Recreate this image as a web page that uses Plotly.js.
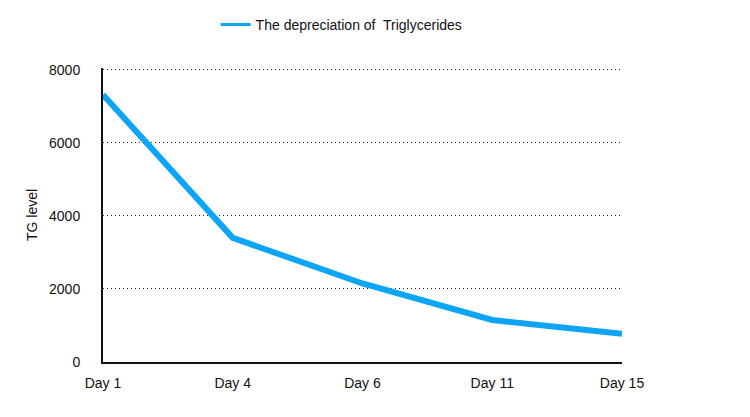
<!DOCTYPE html>
<html>
<head>
<script src="https://cdn.plot.ly/plotly-3.0.1.min.js"></script>
<style>html,body{margin:0;padding:0;background:#fff;}</style>
</head>
<body>
<div id="chart" style="width:750px;height:417px;"></div>
<script>
const days = ['Day 1', 'Day 4', 'Day 6', 'Day 11', 'Day 15'];
const tgLevel = [7320, 3400, 2150, 1150, 770];
const seriesName = 'The depreciation of  Triglycerides';
const yTicks = [0, 2000, 4000, 6000, 8000];

const lineColor = '#0EA5F7';

const trace = {
  x: days,
  y: tgLevel,
  type: 'scatter',
  mode: 'lines',
  name: seriesName,
  line: {color: lineColor, width: 6},
  showlegend: false
};

// legend-only entry (thinner key line, no points)
const legendKey = {
  x: [null],
  y: [null],
  type: 'scatter',
  mode: 'lines',
  name: seriesName,
  line: {color: lineColor, width: 3},
  showlegend: true,
  hoverinfo: 'skip'
};

const layout = {
  width: 750,
  height: 417,
  margin: {l: 103, r: 128, t: 68, b: 55, autoexpand: false},
  paper_bgcolor: '#ffffff',
  plot_bgcolor: '#ffffff',
  font: {family: 'Liberation Sans, Arial, sans-serif', size: 14, color: '#111'},
  showlegend: true,
  legend: {
    orientation: 'h',
    x: 0.217, xanchor: 'left',
    y: 1.147, yanchor: 'middle',
    font: {size: 14, color: '#111'},
    bgcolor: 'rgba(0,0,0,0)'
  },
  xaxis: {
    type: 'category',
    range: [0, 4],
    showgrid: false,
    zeroline: false,
    showline: true,
    linecolor: '#111',
    linewidth: 2,
    ticks: '',
    ticklabelstandoff: 7,
    tickfont: {size: 14}
  },
  yaxis: {
    range: [0, 8050],
    tickvals: yTicks,
    ticktext: yTicks.map(String),
    showgrid: true,
    gridcolor: '#222',
    griddash: '1px,3px',
    gridwidth: 1,
    zeroline: false,
    showline: true,
    linecolor: '#111',
    linewidth: 2,
    ticks: '',
    ticklabelstandoff: 18,
    tickfont: {size: 14},
    title: {text: 'TG level', font: {size: 14}, standoff: 8}
  }
};

Plotly.newPlot('chart', [trace, legendKey], layout, {displayModeBar: false, staticPlot: true});
</script>
</body>
</html>
